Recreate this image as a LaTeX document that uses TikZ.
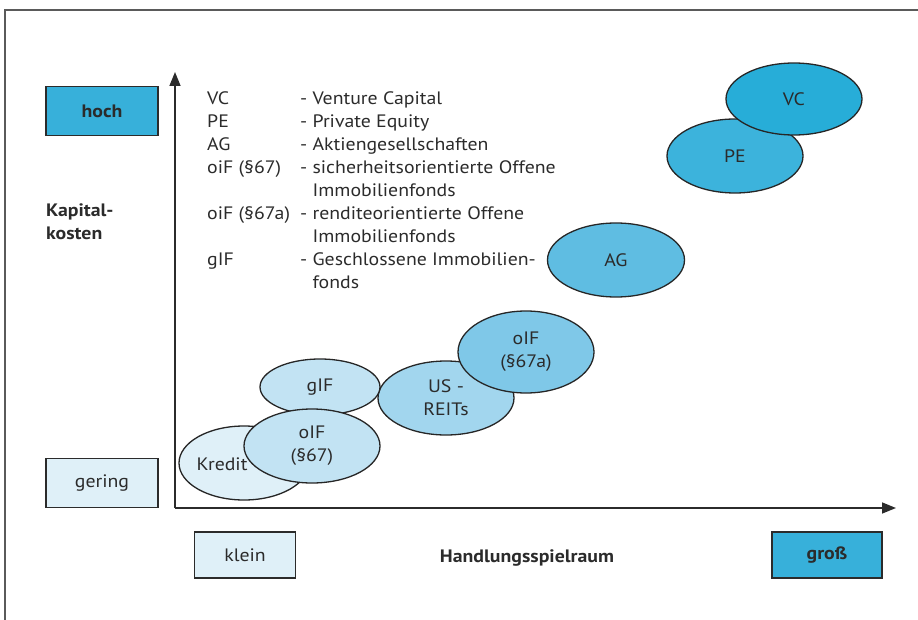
\documentclass[tikz,border=0pt]{standalone}
\usepackage{fontspec}
\setmainfont{PT Sans}[FakeStretch=1.1]
\usepackage{tikz}
\usetikzlibrary{arrows.meta,shapes.geometric}
\definecolor{txt}{HTML}{2B2B2B}
\definecolor{frame}{HTML}{5A5A5A}
\definecolor{cHigh}{HTML}{37B0DA}
\definecolor{cLow}{HTML}{DFF0F8}
\definecolor{cVC}{HTML}{27ADD8}
\definecolor{cPE}{HTML}{3CB3DC}
\definecolor{cAG}{HTML}{5FBDE2}
\definecolor{cOIFa}{HTML}{7FC8E8}
\definecolor{cREIT}{HTML}{A2D6EE}
\definecolor{cGIF}{HTML}{C2E3F3}

\begin{document}
\begin{tikzpicture}[x=1pt,y=-1pt,font=\fontsize{18}{23}\selectfont,text=txt,
  axis/.style={line width=1.5pt,draw=txt,-{Triangle[length=14pt,width=11pt]}},
  lvl/.style={draw=txt,line width=1.2pt,minimum width=112pt,minimum height=49pt,inner sep=0pt},
  ell/.style={ellipse,draw=black!85,line width=1.3pt,inner sep=0pt,align=center,minimum width=136pt,minimum height=74pt},
  lbl/.style={font=\fontsize{18}{23}\selectfont\bfseries,inner sep=0pt}]
\useasboundingbox (0,0) rectangle (918,620);
\draw[frame,line width=1.5pt] (5,620) -- (5,10) -- (918,10);

% axes
\coordinate (origin) at (175,508);
\coordinate (ytop) at (175,72);
\coordinate (xend) at (896,508);
\draw[axis] (origin) -- (ytop);
\draw[axis] (origin) -- (xend);

% scale boxes
\node[lvl,fill=cHigh,font=\fontsize{18}{23}\selectfont\bfseries] (hoch) at (102,111) {hoch};
\node[lvl,fill=cLow] (gering) at (102,483) {gering};
\node[lvl,fill=cLow,minimum width=101pt,minimum height=46pt] (klein) at (245,555) {klein};
\node[lvl,fill=cHigh,minimum width=110pt,minimum height=46pt,font=\fontsize{18}{23}\selectfont\bfseries] (gross) at (827,555) {groß};
\node[lbl,align=left,anchor=base west] (kosten) at (46,240) {Kapital-\\kosten};
\node[lbl,anchor=base] (spielraum) at (527,562) {Handlungsspielraum};

% legend
\node[inner sep=0pt,anchor=base west] (legend) at (207,105) {%
  \begin{tabular}[t]{@{}p{93pt}@{}l@{}}
  VC & - Venture Capital\\
  PE & - Private Equity\\
  AG & - Aktiengesellschaften\\
  oiF (§67) & - sicherheitsorientierte Offene\\
   & \phantom{- }Immobilienfonds\\
  oiF (§67a) & - renditeorientierte Offene\\
   & \phantom{- }Immobilienfonds\\
  gIF & - Geschlossene Immobilien-\\
   & \phantom{- }fonds
  \end{tabular}};

% instruments
\node[ell,fill=cPE] (pe) at (735,156) {PE};
\node[ell,fill=cVC,minimum height=72pt] (vc) at (794,99) {VC};
\node[ell,fill=cAG,minimum width=137pt] (ag) at (616,260) {AG};
\node[ell,fill=cREIT] (reit) at (446,398) {US -\\REITs};
\node[ell,fill=cOIFa,minimum height=82pt] (oifa) at (526,352) {oIF\\(§67a)};
\node[ell,fill=cGIF,minimum width=120pt,minimum height=56pt] (gif) at (320,387) {gIF};
\node[ell,fill=cLow,minimum width=130pt] (kredit) at (244,463) {};
\node[inner sep=0pt] (kreditlbl) at (222,464) {Kredit};
\node[ell,fill=cGIF] (oif) at (312,446) {oIF\\(§67)};
\end{tikzpicture}
\end{document}
